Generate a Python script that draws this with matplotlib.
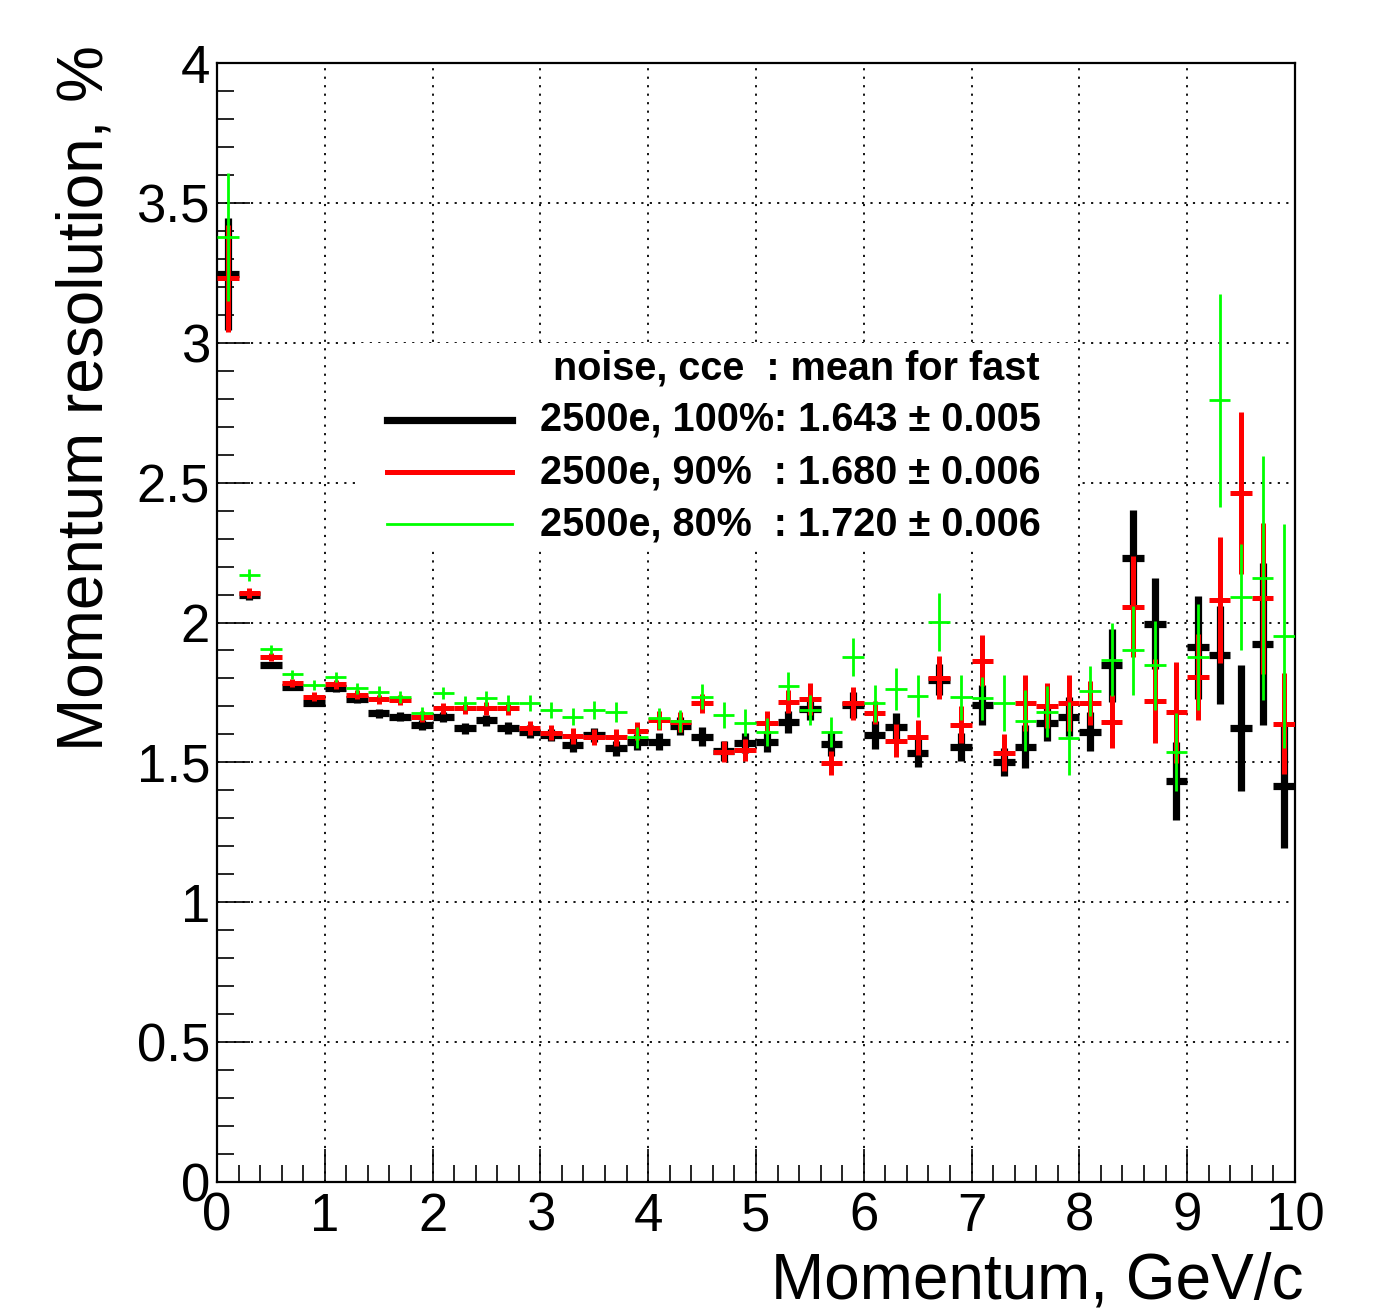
import matplotlib
matplotlib.use("Agg")
import matplotlib.pyplot as plt
from matplotlib.ticker import MultipleLocator, FixedLocator
from matplotlib.patches import Rectangle
from matplotlib.lines import Line2D

plt.rcParams['font.family'] = ['Liberation Sans', 'DejaVu Sans']

# ---------------- data ----------------
momentum = [0.1, 0.3, 0.5, 0.7, 0.9, 1.1, 1.3, 1.5, 1.7, 1.9,
            2.1, 2.3, 2.5, 2.7, 2.9, 3.1, 3.3, 3.5, 3.7, 3.9,
            4.1, 4.3, 4.5, 4.7, 4.9, 5.1, 5.3, 5.5, 5.7, 5.9,
            6.1, 6.3, 6.5, 6.7, 6.9, 7.1, 7.3, 7.5, 7.7, 7.9,
            8.1, 8.3, 8.5, 8.7, 8.9, 9.1, 9.3, 9.5, 9.7, 9.9]
bin_half_width = 0.1

res_100 = [3.245, 2.097, 1.848, 1.771, 1.713, 1.767, 1.725, 1.675, 1.663, 1.634,
           1.661, 1.622, 1.651, 1.622, 1.610, 1.598, 1.562, 1.598, 1.550, 1.574,
           1.574, 1.630, 1.592, 1.540, 1.570, 1.574, 1.645, 1.690, 1.566, 1.705,
           1.598, 1.628, 1.535, 1.795, 1.556, 1.705, 1.503, 1.556, 1.640, 1.663,
           1.609, 1.847, 2.231, 1.996, 1.434, 1.911, 1.885, 1.622, 1.923, 1.414]
err_100 = [0.200, 0.015, 0.012, 0.012, 0.013, 0.014, 0.014, 0.015, 0.016, 0.017,
           0.018, 0.019, 0.020, 0.021, 0.022, 0.023, 0.025, 0.026, 0.027, 0.029,
           0.030, 0.032, 0.034, 0.036, 0.036, 0.038, 0.040, 0.040, 0.042, 0.045,
           0.050, 0.050, 0.050, 0.055, 0.050, 0.070, 0.050, 0.077, 0.065, 0.070,
           0.070, 0.130, 0.170, 0.163, 0.140, 0.185, 0.175, 0.225, 0.290, 0.220]

res_90 = [3.230, 2.104, 1.876, 1.783, 1.735, 1.779, 1.741, 1.725, 1.723, 1.663,
          1.693, 1.693, 1.693, 1.693, 1.622, 1.606, 1.594, 1.590, 1.590, 1.613,
          1.651, 1.645, 1.711, 1.538, 1.544, 1.642, 1.717, 1.727, 1.497, 1.711,
          1.678, 1.578, 1.590, 1.803, 1.634, 1.864, 1.535, 1.713, 1.703, 1.713,
          1.712, 1.646, 2.057, 1.718, 1.679, 1.805, 2.082, 2.463, 2.086, 1.638]
err_90 = [0.190, 0.018, 0.014, 0.014, 0.015, 0.016, 0.016, 0.017, 0.018, 0.019,
          0.020, 0.021, 0.022, 0.024, 0.025, 0.026, 0.028, 0.029, 0.031, 0.033,
          0.034, 0.036, 0.035, 0.038, 0.039, 0.040, 0.040, 0.057, 0.042, 0.058,
          0.040, 0.060, 0.063, 0.077, 0.066, 0.090, 0.066, 0.100, 0.080, 0.100,
          0.080, 0.096, 0.180, 0.150, 0.180, 0.155, 0.225, 0.290, 0.270, 0.180]

res_80 = [3.378, 2.170, 1.905, 1.815, 1.777, 1.806, 1.765, 1.753, 1.735, 1.675,
          1.747, 1.713, 1.729, 1.713, 1.713, 1.687, 1.663, 1.687, 1.681, 1.590,
          1.657, 1.649, 1.735, 1.669, 1.642, 1.610, 1.773, 1.687, 1.610, 1.876,
          1.711, 1.762, 1.739, 2.001, 1.733, 1.730, 1.711, 1.649, 1.681, 1.586,
          1.755, 1.867, 1.900, 1.847, 1.536, 1.877, 2.794, 2.092, 2.159, 1.951]
err_80 = [0.230, 0.022, 0.016, 0.016, 0.017, 0.018, 0.019, 0.020, 0.021, 0.022,
          0.022, 0.024, 0.026, 0.028, 0.028, 0.030, 0.030, 0.033, 0.035, 0.037,
          0.038, 0.040, 0.045, 0.047, 0.048, 0.050, 0.050, 0.054, 0.054, 0.068,
          0.066, 0.074, 0.075, 0.104, 0.080, 0.077, 0.100, 0.110, 0.092, 0.130,
          0.089, 0.130, 0.160, 0.160, 0.140, 0.190, 0.380, 0.190, 0.437, 0.400]

legend_header = "noise, cce  : mean for fast"
legend_labels = ["2500e, 100%: 1.643 \u00b1 0.005",
                 "2500e, 90%  : 1.680 \u00b1 0.006",
                 "2500e, 80%  : 1.720 \u00b1 0.006"]

x_ticks = [0, 1, 2, 3, 4, 5, 6, 7, 8, 9, 10]
x_ticklabels = ["0", "1", "2", "3", "4", "5", "6", "7", "8", "9", "10"]
y_ticks = [0, 0.5, 1, 1.5, 2, 2.5, 3, 3.5, 4]
y_ticklabels = ["0", "0.5", "1", "1.5", "2", "2.5", "3", "3.5", "4"]

x_label = "Momentum, GeV/c"
y_label = "Momentum resolution, %"

# ---------------- figure ----------------
fig = plt.figure(figsize=(13.81, 13.10), dpi=100)
ax = fig.add_axes([0.1571, 0.0977, 0.7806, 0.8542])

series = [
    (res_100, err_100, "black", 5.2),
    (res_90, err_90, "#ff0000", 3.6),
    (res_80, err_80, "#00ff00", 2.0),
]
for i, (vals, errs, col, lw) in enumerate(series):
    ax.errorbar(momentum, vals, xerr=bin_half_width, yerr=errs, fmt='none',
                ecolor=col, elinewidth=lw, capsize=0, zorder=3 + i)

ax.set_xlim(0, 10)
ax.set_ylim(0, 4)
ax.xaxis.set_major_locator(FixedLocator(x_ticks))
ax.set_xticklabels(x_ticklabels)
ax.yaxis.set_major_locator(FixedLocator(y_ticks))
ax.set_yticklabels(y_ticklabels)
ax.xaxis.set_minor_locator(MultipleLocator(0.2))
ax.yaxis.set_minor_locator(MultipleLocator(0.1))

ax.tick_params(which='both', direction='in', top=False, right=False,
               width=1.2, color='black')
ax.tick_params(which='major', length=24)
ax.tick_params(which='minor', length=12)
ax.tick_params(axis='x', which='major', labelsize=38, pad=7)
ax.tick_params(axis='y', which='major', labelsize=38, pad=5)

for sp in ax.spines.values():
    sp.set_linewidth(1.6)

ax.set_axisbelow(True)
ax.grid(True, which='major', color='black', linestyle=(0, (1.2, 3.5)),
        linewidth=1.3)

ax.set_xlabel(x_label, fontsize=46, loc='right', va='center')
ax.xaxis.set_label_coords(1.008, -0.089)
ax.set_ylabel(y_label, fontsize=46, loc='top', va='center')
ax.yaxis.set_label_coords(-0.122, 1.016)

# legend box (white, borderless)
ax.add_patch(Rectangle((0.133, 0.566), 0.665, 0.184, transform=ax.transAxes,
                       facecolor='white', edgecolor='none', zorder=1))
ax.text(0.7635, 0.7274, legend_header, transform=ax.transAxes, ha='right',
        va='center', fontsize=28.5, fontweight='bold', zorder=6)
row_y = [0.681, 0.6345, 0.588]
for (vals, errs, col, lw), lab, yy in zip(series, legend_labels, row_y):
    ax.add_line(Line2D([0.1577, 0.2737], [yy, yy], transform=ax.transAxes,
                       color=col, linewidth=lw, zorder=6))
    ax.text(0.2996, yy, lab, transform=ax.transAxes, ha='left', va='center',
            fontsize=28.5, fontweight='bold', zorder=6)

fig.savefig("out.png", dpi=100)
